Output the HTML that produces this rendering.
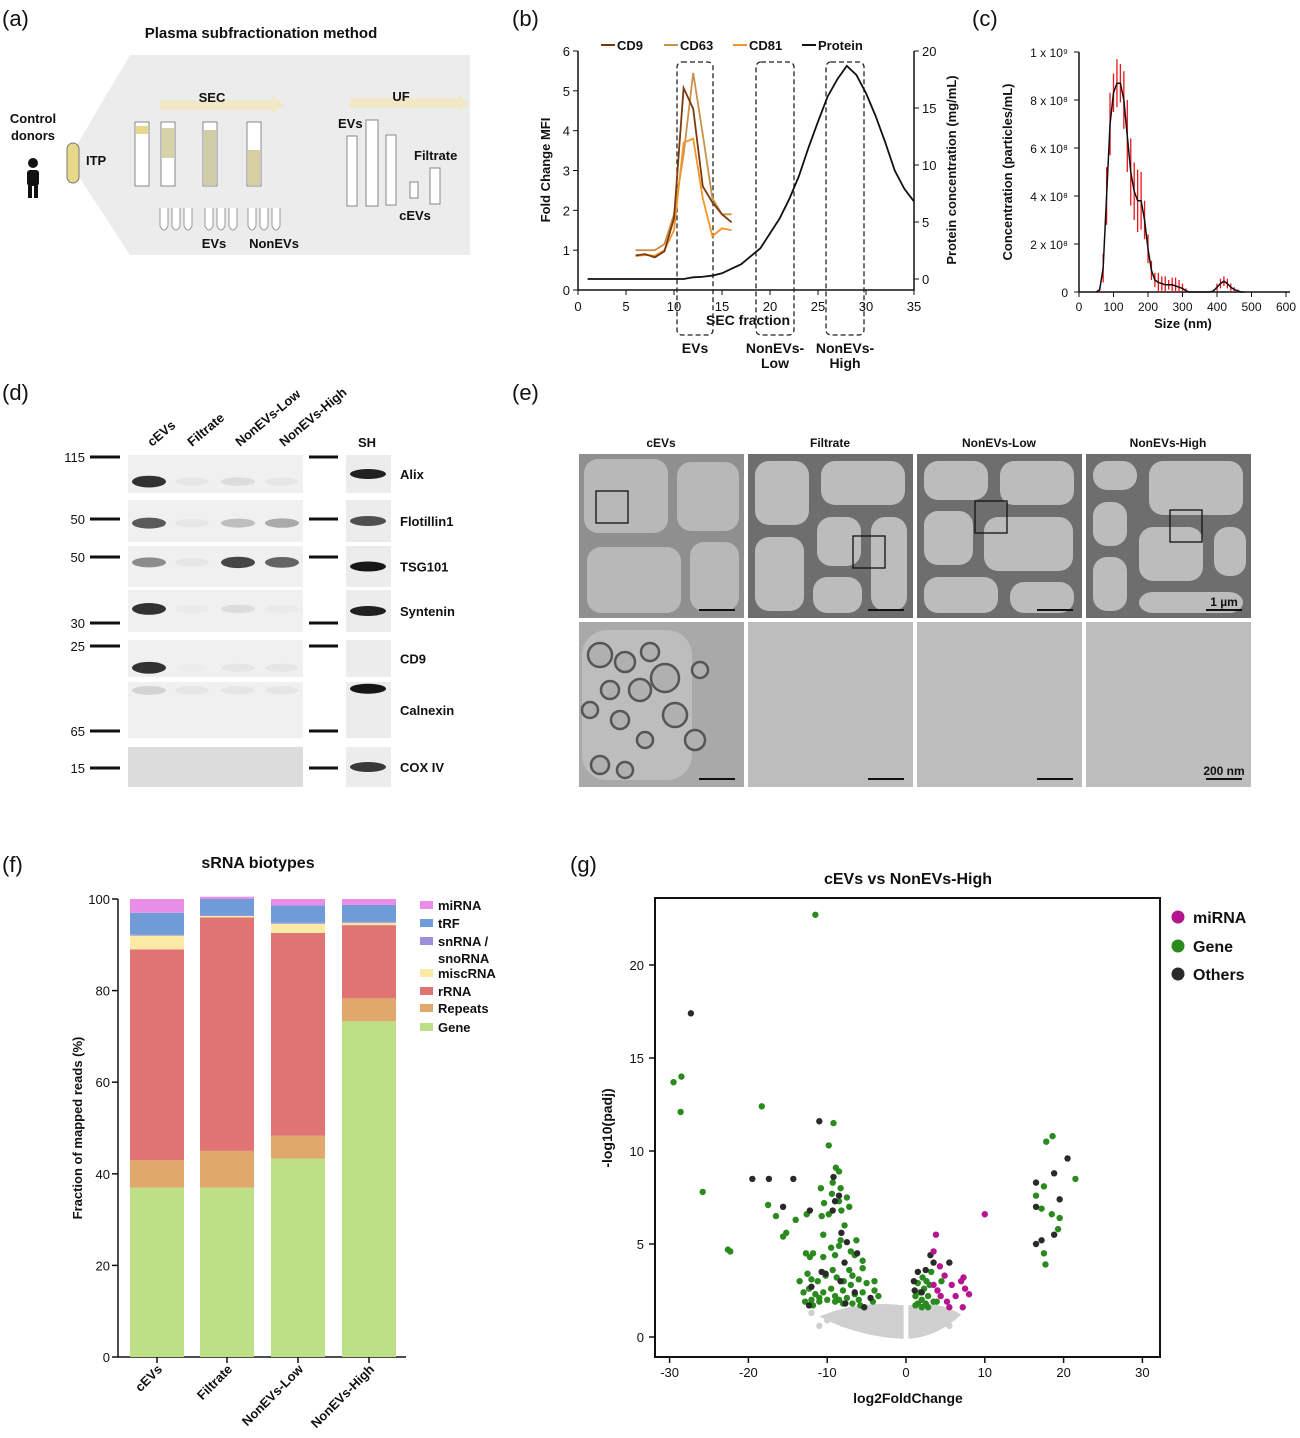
<!DOCTYPE html>
<html><head><meta charset="utf-8"><style>
body{margin:0;background:#fff;}
svg{display:block;font-family:"Liberation Sans",Arial,sans-serif;}
text{fill:#111;}
.b{font-weight:bold;}
</style></head><body>
<svg id="s" width="1300" height="1438" viewBox="0 0 1300 1438">
<g font-size="22">
<text x="2" y="26">(a)</text><text x="512" y="26">(b)</text><text x="972" y="26">(c)</text>
<text x="2" y="400">(d)</text><text x="512" y="400">(e)</text>
<text x="2" y="872">(f)</text><text x="570" y="872">(g)</text>
</g>

<g>
<text x="261" y="38" font-size="15" class="b" text-anchor="middle">Plasma subfractionation method</text>
<polygon points="68,160 130,55 470,55 470,255 130,255" fill="#ececec"/>
<rect x="160" y="100" width="112" height="10" fill="#f1e8c8"/>
<polygon points="272,96 285,105 272,114" fill="#f1e8c8"/>
<text x="212" y="102" font-size="13" class="b" text-anchor="middle">SEC</text>
<rect x="350" y="98" width="108" height="10" fill="#f1e8c8"/>
<polygon points="458,95 470,103 458,111" fill="#f1e8c8"/>
<text x="401" y="101" font-size="13" class="b" text-anchor="middle">UF</text>
<text x="33" y="123" font-size="13" class="b" text-anchor="middle">Control</text>
<text x="33" y="140" font-size="13" class="b" text-anchor="middle">donors</text>
<circle cx="33" cy="163" r="5" fill="#111"/><rect x="27" y="170" width="12" height="16" rx="3" fill="#111"/><rect x="28" y="184" width="4" height="14" fill="#111"/><rect x="34" y="184" width="4" height="14" fill="#111"/>
<rect x="67" y="143" width="12" height="40" rx="6" fill="#e8d98a" stroke="#777"/>
<text x="86" y="165" font-size="13" class="b">ITP</text>
<g fill="#fff" stroke="#888">
<rect x="135" y="122" width="14" height="64"/><rect x="161" y="122" width="14" height="64"/><rect x="203" y="122" width="14" height="64"/><rect x="247" y="122" width="14" height="64"/>
<rect x="347" y="136" width="10" height="70"/><rect x="366" y="120" width="12" height="86"/><rect x="386" y="135" width="10" height="70"/><rect x="430" y="168" width="10" height="36"/><rect x="410" y="182" width="8" height="16"/>
</g>
<rect x="136" y="126" width="12" height="8" fill="#e8d98a"/><rect x="162" y="128" width="12" height="30" fill="#d7d2a8"/><rect x="204" y="130" width="12" height="55" fill="#d0cca5"/><rect x="248" y="150" width="12" height="35" fill="#d8cfa0"/>
<g fill="#fff" stroke="#999">
<path d="M160,208 v18 q4,8 8,0 v-18"/><path d="M172,208 v18 q4,8 8,0 v-18"/><path d="M184,208 v18 q4,8 8,0 v-18"/>
<path d="M205,208 v18 q4,8 8,0 v-18"/><path d="M217,208 v18 q4,8 8,0 v-18"/><path d="M229,208 v18 q4,8 8,0 v-18"/>
<path d="M248,208 v18 q4,8 8,0 v-18"/><path d="M260,208 v18 q4,8 8,0 v-18"/><path d="M272,208 v18 q4,8 8,0 v-18"/>
</g>
<text x="214" y="248" font-size="13" class="b" text-anchor="middle">EVs</text>
<text x="274" y="248" font-size="13" class="b" text-anchor="middle">NonEVs</text>
<text x="338" y="128" font-size="13" class="b">EVs</text>
<text x="414" y="160" font-size="13" class="b">Filtrate</text>
<text x="415" y="220" font-size="13" class="b" text-anchor="middle">cEVs</text>
</g>

<g id="pb"></g>
<g id="pc"></g>

<g id="pd">
<g font-size="13" class="b">
<text transform="translate(152,447) rotate(-40)">cEVs</text>
<text transform="translate(192,447) rotate(-40)">Filtrate</text>
<text transform="translate(240,447) rotate(-40)">NonEVs-Low</text>
<text transform="translate(284,447) rotate(-40)">NonEVs-High</text>
<text x="358" y="447">SH</text>
</g>
</g>

<g id="pe"></g>
<g id="pf"></g>
<g id="pg"></g>
</svg>
<script>
// ---------- Panel B data ----------
const bFractions = [6,7,8,9,10,11,12,13,14,15,16];
const cd9 = [0.87,0.9,0.82,0.97,1.8,5.07,4.55,2.6,2.2,1.9,1.7];
const cd63 = [1,1,1,1.15,1.9,3.4,5.45,3.9,2.3,1.9,1.9];
const cd81 = [0.85,0.88,0.86,1,1.5,3.7,3.8,2.3,1.35,1.55,1.5];
const protFractions = [1,2,3,4,5,6,7,8,9,10,11,12,13,14,15,16,17,18,19,20,21,22,23,24,25,26,27,28,29,30,31,32,33,34,35];
const protein = [0,0,0,0,0,0,0,0,0,0,0,0.15,0.2,0.3,0.5,0.9,1.3,2.0,2.7,4.0,5.3,7.0,9.0,11.5,13.8,16.0,17.5,18.7,17.9,16.3,14.3,12.0,9.5,7.9,6.8];
const bXTicks = [0,5,10,15,20,25,30,35];
const bYTicks = [0,1,2,3,4,5,6];
const bY2Ticks = [0,5,10,15,20];
// ---------- Panel C data ----------
const cSizes = [50,60,70,80,90,100,110,120,130,140,150,160,170,180,190,200,210,220,230,240,250,260,270,280,290,300,310,320,330,340,350,360,370,380,390,400,410,420,430,440,450,460,470,480];
const cConc = [0,0.1,1,4,7,8.3,8.7,8.7,8,6.5,5,4.2,3.8,3.8,3,1.8,0.9,0.5,0.4,0.35,0.3,0.3,0.3,0.25,0.2,0.15,0.05,0,0,0,0,0,0,0,0.05,0.2,0.35,0.45,0.35,0.2,0.1,0.05,0,0];
const cErr = [0,0.1,0.6,1.2,1.3,0.8,1,0.8,1.2,1.5,1.4,1.2,1.3,1.2,0.8,0.6,0.4,0.3,0.4,0.3,0.35,0.2,0.3,0.35,0.3,0.2,0.1,0,0,0,0,0,0,0,0.05,0.15,0.2,0.2,0.2,0.15,0.1,0.05,0,0];
const cXTicks = [0,100,200,300,400,500,600];
const cYTicks = [0,2,4,6,8,10];
const cYLabels = ["0","2 x 10⁸","4 x 10⁸","6 x 10⁸","8 x 10⁸","1 x 10⁹"];
// ---------- Panel F data ----------
const fSamples = ["cEVs","Filtrate","NonEVs-Low","NonEVs-High"];
const fGene = [37,37,43.3,73.3];
const fRepeats = [6,8,5,5];
const fRRNA = [46,51,44.3,16];
const fMisc = [3,0.3,2,0.5];
const fSn = [0.2,0.1,0.2,0.2];
const fTRF = [4.8,3.6,3.8,3.7];
const fMiRNA = [3,0.5,1.4,1.3];
const fYTicks = [0,20,40,60,80,100];
// ---------- Panel G data ----------
const gGreen = [[-29.5,13.7],[-28.5,14],[-28.6,12.1],[-25.8,7.8],[-22.6,4.7],[-22.3,4.6],[-18.3,12.4],[-17.5,7.1],[-16.5,6.5],[-15.6,5.4],[-11.5,22.7],[-9.2,11.5],[-9.8,10.3],[-8.5,7.3],
[-12,2.0],[-11.5,2.3],[-12.3,2.6],[-11,2.1],[-10.5,2.4],[-10,2.0],[-9.5,2.6],[-9,2.2],[-8.5,2.0],[-8,2.5],[-7.5,2.1],[-7,2.8],[-6.5,2.3],[-6,2.0],[-5.5,2.4],[-5,2.9],[-4.2,1.9],[-4,2.5],[-12.5,3.4],[-12,3.1],[-11.2,3.0],[-10.2,3.3],[-9.3,3.6],[-8.8,3.2],[-7.9,3.0],[-7.2,3.6],[-6.8,3.3],[-6,3.1],[-5.5,3.7],[-13.5,3.0],[-12.7,4.5],[-12.2,4.3],[-11.8,4.5],[-10.5,4.3],[-9.5,4.8],[-9,4.4],[-8.5,4.9],[-7,4.6],[-6.5,4.4],[-6.3,5.2],[-10.5,5.5],[-9.8,6.6],[-7.8,6.0],[-9.4,7.7],[-8.3,8.0],[-8.9,9.1],[-9.3,8.3],[-10.4,7.2],[-10.8,8.0],[-8.5,8.9],[-14,6.3],[-15.2,5.6],[-12.6,6.6],[-7.5,7.5],[-5.5,4.1],[-4,3.0],[-3.5,2.2],[-11,1.9],[-9,1.9],[-8.0,1.8],[-6.8,1.8],[-5.8,1.7],[-10.7,6.5],[-8.2,6.8],[-7.2,7.0],[-8.3,5.2],[-13,2.4],[-12.8,1.9],[-11.8,1.7],
[1.5,1.8],[2,2.0],[2.5,1.8],[1.8,2.4],[2.3,2.6],[2.8,2.2],[1.2,2.2],[3,2.8],[2.6,3.0],[3.5,1.9],[2.1,3.2],[3.2,3.5],[4.5,3.0],[3.9,1.9],[1.5,2.9],[2.0,1.6],[1.2,1.7],[2.8,1.6],
[17.5,4.5],[17.7,3.9],[18.6,10.8],[17.8,10.5],[17.5,8.1],[16.5,7.6],[17.2,6.9],[19.5,6.4],[19.3,5.8],[21.5,8.5],[18.5,6.6]];
const gBlack = [[-27.3,17.4],[-11,11.6],[-19.5,8.5],[-17.4,8.5],[-14.3,8.5],[-9.2,8.6],[-15.6,7.0],[-9.0,7.3],[-8.5,7.6],[-12.2,6.8],[-9.3,6.8],[-8.2,5.6],[-7.5,5.1],[-10.7,3.5],[-10.2,3.4],[-8.3,3.0],[-7.8,4.0],[-6.2,4.5],[-12.3,1.7],[-12,2.7],[-6.5,2.4],[-7.7,1.8],[-5.3,1.6],[-4.5,2.1],
[1,3.0],[1.5,3.5],[2.5,3.6],[3.1,4.4],[3.5,4.0],[5.5,4.0],[2,2.4],[1.1,2.5],
[16.5,8.3],[16.5,7.0],[18.8,8.8],[20.5,9.6],[19.5,7.4],[16.5,5.0],[17.2,5.2],[18.8,5.5]];
const gMiRNA = [[10,6.6],[3.8,5.5],[3.5,4.6],[4.3,3.8],[4.9,3.3],[5.8,2.8],[7.3,3.2],[6.3,2.2],[7.2,1.6],[5.5,1.6],[3.5,2.8],[4.4,2.2],[8.0,2.3],[7.0,3.0],[7.5,2.6],[4.0,2.5],[5.2,1.9]];
const gGray = [[-12,1.3],[-10,0.9],[-11,0.6],[-8,0.7],[-6.5,0.9],[-5.5,1.0],[-4.5,1.2],[4,1.2],[5,1.0],[5.5,0.6],[3,1.4],[-3,1.3]];
const gXTicks = [-30,-20,-10,0,10,20,30];
const gYTicks = [0,5,10,15,20];

const NS="http://www.w3.org/2000/svg";
function mk(parent,tag,attrs,txt){const e=document.createElementNS(NS,tag);for(const k in attrs)e.setAttribute(k,attrs[k]);if(txt!==undefined)e.textContent=txt;parent.appendChild(e);return e;}

// ===== Panel B =====
(function(){
const g=document.getElementById('pb');
const X=v=>578+v*(914-578)/35, Y=v=>290-v*(290-51)/6, Y2=v=>279-v*(279-51)/20;
mk(g,'path',{d:`M578,51 V290 H914 V51`,fill:'none',stroke:'#111','stroke-width':1.5});
bXTicks.forEach(t=>{const l=mk(g,'line',{x1:X(t),x2:X(t),y1:290,y2:295,stroke:'#111'});
 mk(g,'text',{x:X(t),y:311,'font-size':13,'text-anchor':'middle'},t);});
bYTicks.forEach(t=>{mk(g,'line',{x1:573,x2:578,y1:Y(t),y2:Y(t),stroke:'#111'});mk(g,'text',{x:570,y:Y(t)+5,'font-size':13,'text-anchor':'end'},t);});
bY2Ticks.forEach(t=>{mk(g,'line',{x1:914,x2:919,y1:Y2(t),y2:Y2(t),stroke:'#111'});mk(g,'text',{x:922,y:Y2(t)+5,'font-size':13},t);});
const yt=mk(g,'text',{transform:'translate(550,170) rotate(-90)','font-size':13,'text-anchor':'middle',class:'b'},'Fold Change MFI');

mk(g,'text',{transform:'translate(956,170) rotate(-90)','font-size':13,'text-anchor':'middle',class:'b'},'Protein concentration (mg/mL)');
mk(g,'text',{x:748,y:325,'font-size':14,'text-anchor':'middle',class:'b'},'SEC fraction');
[[677,713,'EVs',''],[756,794,'NonEVs-','Low'],[826,864,'NonEVs-','High']].forEach(b=>{
 mk(g,'rect',{x:b[0],y:62,width:b[1]-b[0],height:273,rx:5,fill:'none',stroke:'#222','stroke-dasharray':'5,3','stroke-width':1.3});
 mk(g,'text',{x:(b[0]+b[1])/2,y:353,'font-size':14,'text-anchor':'middle',class:'b'},b[2]);
 if(b[3]) mk(g,'text',{x:(b[0]+b[1])/2,y:368,'font-size':14,'text-anchor':'middle',class:'b'},b[3]);
});
function line(xs,ys,yf,col,name){const p=mk(g,'polyline',{points:xs.map((x,i)=>X(x)+','+yf(ys[i])).join(' '),fill:'none',stroke:col,'stroke-width':1.8});
 }
line(protFractions,protein,Y2,'#111','protein-line');
line(bFractions,cd63,Y,'#c8924a','cd63-line');
line(bFractions,cd81,Y,'#f5962a','cd81-line');
line(bFractions,cd9,Y,'#7a3a0e','cd9-line');
[[601,'#7a3a0e','CD9'],[664,'#c8924a','CD63'],[733,'#f5962a','CD81'],[802,'#111','Protein']].forEach(l=>{
 const le=mk(g,'g',{});
 mk(le,'line',{x1:l[0],x2:l[0]+14,y1:45,y2:45,stroke:l[1],'stroke-width':2});
 mk(le,'text',{x:l[0]+16,y:50,'font-size':13,class:'b'},l[2]);});
})();

// ===== Panel C =====
(function(){
const g=document.getElementById('pc');
const X=v=>1079+v*(1286-1079)/600, Y=v=>292-v*(292-52)/10;
mk(g,'path',{d:'M1079,52 V292 H1290',fill:'none',stroke:'#111','stroke-width':1.5});
cXTicks.forEach(t=>{mk(g,'line',{x1:X(t),x2:X(t),y1:292,y2:297,stroke:'#111'});mk(g,'text',{x:X(t),y:311,'font-size':12,'text-anchor':'middle'},t);});
cYTicks.forEach((t,i)=>{mk(g,'line',{x1:1074,x2:1079,y1:Y(t),y2:Y(t),stroke:'#111'});mk(g,'text',{x:1068,y:Y(t)+5,'font-size':12,'text-anchor':'end'},cYLabels[i]);});
mk(g,'text',{x:1183,y:328,'font-size':13,'text-anchor':'middle',class:'b'},'Size (nm)');
mk(g,'text',{transform:'translate(1012,172) rotate(-90)','font-size':13,'text-anchor':'middle',class:'b'},'Concentration (particles/mL)');
cSizes.forEach((s,i)=>{if(cErr[i]>0){const e=mk(g,'line',{x1:X(s),x2:X(s),y1:Y(cConc[i]+cErr[i]),y2:Y(Math.max(0,cConc[i]-cErr[i])),stroke:'#e8161b','stroke-width':1.3});
 }});
const p=mk(g,'polyline',{points:cSizes.map((s,i)=>X(s)+','+Y(cConc[i])).join(' '),fill:'none',stroke:'#111','stroke-width':1.5});

})();

// ===== Panel D =====
(function(){
const g=document.getElementById('pd');
const rows=[{n:'Alix',y:455,h:38,m:'115',my:457,lanes:[0.95,0.05,0.1,0.05],sh:0.9,bandY:0.7},
{n:'Flotillin1',y:500,h:42,m:'50',my:519,lanes:[0.75,0.05,0.25,0.35],sh:0.7,bandY:0.55},
{n:'TSG101',y:546,h:41,m:'50',my:557,lanes:[0.5,0.05,0.85,0.7],sh:0.95,bandY:0.4},
{n:'Syntenin',y:590,h:42,m:'30',my:623,lanes:[0.95,0.03,0.1,0.03],sh:0.9,bandY:0.45},
{n:'CD9',y:640,h:37,m:'25',my:646,lanes:[0.95,0.02,0.05,0.05],sh:0,bandY:0.75},
{n:'Calnexin',y:682,h:56,m:'65',my:731,lanes:[0.15,0.05,0.05,0.05],sh:0.95,bandY:0.15},
{n:'COX IV',y:747,h:40,m:'15',my:768,lanes:[0,0,0,0],sh:0.8,bandY:0.5}];
const laneX=[135,178,224,268];
rows.forEach(r=>{
 const rg=mk(g,'g',{});
 mk(rg,'rect',{x:128,y:r.y,width:175,height:r.h,fill:r.n==='COX IV'?'#dcdcdc':'#f0f0f0'});
 mk(rg,'rect',{x:346,y:r.y,width:45,height:r.h,fill:'#ececec'});
 r.lanes.forEach((v,i)=>{if(v>0){const c=Math.round(240-200*v);mk(rg,'ellipse',{cx:laneX[i]+14,cy:r.y+r.h*r.bandY,rx:17,ry:4+v*2,fill:`rgb(${c},${c},${c})`});}});
 if(r.sh>0){const c=Math.round(240-230*r.sh);mk(rg,'ellipse',{cx:368,cy:r.y+r.h*(r.n==='Calnexin'?0.12:0.5),rx:18,ry:5,fill:`rgb(${c},${c},${c})`});}
 mk(rg,'line',{x1:90,x2:120,y1:r.my,y2:r.my,stroke:'#111','stroke-width':3});
 mk(rg,'line',{x1:309,x2:338,y1:r.my,y2:r.my,stroke:'#111','stroke-width':3});
 mk(rg,'text',{x:85,y:r.my+5,'font-size':13,'text-anchor':'end'},r.m);
 mk(rg,'text',{x:400,y:r.y+r.h/2+5,'font-size':13,class:'b'},r.n);
});
})();

// ===== Panel E =====
(function(){
const g=document.getElementById('pe');
const cols=[579,748,917,1086], names=['cEVs','Filtrate','NonEVs-Low','NonEVs-High'];
cols.forEach((x,i)=>{
 mk(g,'text',{x:x+82,y:447,'font-size':12,'text-anchor':'middle',class:'b'},names[i]);
 const top=mk(g,'g',{});
 mk(top,'rect',{x:x,y:454,width:165,height:164,fill:i===0?'#8f8f8f':'#6e6e6e'});
 const cells=i===0?[[2,2,90,80],[95,5,68,75],[5,90,100,72],[108,85,55,75]]:i===1?[[4,4,60,70],[70,4,90,50],[4,80,55,80],[66,60,50,55],[120,60,42,100],[62,120,55,42]]:i===2?[[4,4,70,45],[80,4,80,50],[4,54,55,60],[64,60,95,60],[4,120,80,42],[90,125,70,37]]:[[4,4,50,35],[60,4,100,60],[4,45,40,50],[50,70,70,60],[125,70,38,55],[4,100,40,60],[50,135,110,27]];
 cells.forEach(c=>mk(top,'rect',{x:x+c[0]+3,y:454+c[1]+3,width:c[2]-6,height:c[3]-6,rx:14,fill:i===0?'#b8b8b8':'#bcbcbc'}));
 const bx=[[596,491],[853,536],[975,501],[1170,510]][i];
 mk(top,'rect',{x:bx[0],y:bx[1],width:32,height:32,fill:'none',stroke:'#111','stroke-width':1.3});
 mk(top,'line',{x1:x+120,x2:x+156,y1:610,y2:610,stroke:'#111','stroke-width':2});
 const bot=mk(g,'g',{});
 mk(bot,'rect',{x:x,y:622,width:165,height:165,fill:i===0?'#a9a9a9':'#bdbdbd'});
 mk(bot,'line',{x1:x+120,x2:x+156,y1:779,y2:779,stroke:'#111','stroke-width':2});
});
mk(g,'text',{x:1224,y:606,'font-size':12,'text-anchor':'middle',class:'b'},'1 µm');
mk(g,'text',{x:1224,y:775,'font-size':12,'text-anchor':'middle',class:'b'},'200 nm');
mk(g,'rect',{x:582,y:630,width:110,height:150,rx:25,fill:'#bdbdbd'});
[[600,655,12],[625,662,10],[650,652,9],[665,678,14],[640,690,11],[610,690,9],[590,710,8],[620,720,9],[675,715,12],[700,670,8],[645,740,8],[600,765,9],[625,770,8],[695,740,10]].forEach(c=>
 mk(g,'circle',{cx:c[0],cy:c[1],r:c[2],fill:'#b0b0b0',stroke:'#555','stroke-width':2.5}));
})();

// ===== Panel F =====
(function(){
const g=document.getElementById('pf');
const Y=v=>1357-v*(1357-899)/100;
const bx=[130,200,271,342], bw=54;
mk(g,'text',{x:258,y:868,'font-size':16,'text-anchor':'middle',class:'b'},'sRNA  biotypes');
mk(g,'path',{d:'M118,899 V1357 H406',fill:'none',stroke:'#111','stroke-width':1.5});
fYTicks.forEach(t=>{mk(g,'line',{x1:112,x2:118,y1:Y(t),y2:Y(t),stroke:'#111','stroke-width':1.5});mk(g,'text',{x:110,y:Y(t)+5,'font-size':13,'text-anchor':'end'},t);});
mk(g,'text',{transform:'translate(82,1128) rotate(-90)','font-size':13,'text-anchor':'middle',class:'b'},'Fraction of mapped reads (%)');
const series=[[fGene,'#bde087','gene'],[fRepeats,'#e0a86a','repeats'],[fRRNA,'#e07475','rrna'],[fMisc,'#fbeaa6','miscrna'],[fSn,'#9d8fd9','snrna'],[fTRF,'#6f9bd6','trf'],[fMiRNA,'#e98ee8','mirna']];
fSamples.forEach((s,i)=>{let acc=0;
 series.forEach(se=>{const v=se[0][i];const r=mk(g,'rect',{x:bx[i],y:Y(acc+v),width:bw,height:Y(acc)-Y(acc+v),fill:se[1]});
  acc+=v;});
 mk(g,'line',{x1:bx[i]+bw/2,x2:bx[i]+bw/2,y1:1357,y2:1363,stroke:'#111','stroke-width':1.5});
 mk(g,'text',{transform:`translate(${bx[i]+bw/2+6},1370) rotate(-45)`,'font-size':13,'text-anchor':'end',class:'b'},s);});
[['miRNA','#e98ee8',906],['tRF','#6f9bd6',924],['snRNA /','#9d8fd9',942],['miscRNA','#fbeaa6',974],['rRNA','#e07475',992],['Repeats','#e0a86a',1009],['Gene','#bde087',1028]].forEach(l=>{
 const le=mk(g,'g',{});
 mk(le,'rect',{x:420,y:l[2]-5,width:13,height:8,fill:l[1]});mk(le,'text',{x:438,y:l[2]+4,'font-size':13,class:'b'},l[0]);});
mk(g,'text',{x:438,y:963,'font-size':13,class:'b'},'snoRNA');
})();

// ===== Panel G =====
(function(){
const g=document.getElementById('pg');
const X=v=>906+v*7.88, Y=v=>1337-v*18.6;
mk(g,'text',{x:908,y:884,'font-size':16,'text-anchor':'middle',class:'b'},'cEVs vs NonEVs-High');
mk(g,'rect',{x:655,y:898,width:505,height:459,fill:'none',stroke:'#111','stroke-width':2});
gXTicks.forEach(t=>{mk(g,'line',{x1:X(t),x2:X(t),y1:1357,y2:1363,stroke:'#111','stroke-width':1.5});mk(g,'text',{x:X(t),y:1377,'font-size':13,'text-anchor':'middle'},t);});
gYTicks.forEach(t=>{mk(g,'line',{x1:649,x2:655,y1:Y(t),y2:Y(t),stroke:'#111','stroke-width':1.5});mk(g,'text',{x:644,y:Y(t)+5,'font-size':13,'text-anchor':'end'},t);});
mk(g,'text',{x:908,y:1403,'font-size':14,'text-anchor':'middle',class:'b'},'log2FoldChange');
mk(g,'text',{transform:'translate(612,1128) rotate(-90)','font-size':14,'text-anchor':'middle',class:'b'},'-log10(padj)');
const cl=mk(g,'path',{d:`M${X(-11)},${Y(1.1)} Q${X(-6)},${Y(2.0)} ${X(-0.3)},${Y(1.7)} L${X(-0.3)},${Y(-0.1)} Q${X(-6)},${Y(0)} ${X(-11)},${Y(1.1)} Z M${X(0.3)},${Y(1.7)} Q${X(4)},${Y(2.0)} ${X(7)},${Y(1.2)} Q${X(4)},${Y(0)} ${X(0.3)},${Y(-0.1)} Z`,fill:'#cfcfcf'});

function pts(arr,col,name){arr.forEach(p=>{const c=mk(g,'circle',{cx:X(p[0]),cy:Y(p[1]),r:3.2,fill:col});});}
pts(gGray,'#cfcfcf','point-nonsig');
pts(gGreen,'#2a8a1e','point-gene');
pts(gBlack,'#2a2a2a','point-others');
pts(gMiRNA,'#b5168f','point-mirna');
[['miRNA','#b5168f',917],['Gene','#2a8a1e',946],['Others','#2a2a2a',974]].forEach(l=>{
 const le=mk(g,'g',{});
 mk(le,'circle',{cx:1178,cy:l[2],r:7,fill:l[1],stroke:'#fff'});mk(le,'text',{x:1193,y:l[2]+6,'font-size':16,class:'b'},l[0]);});
})();
</script>
</body></html>
